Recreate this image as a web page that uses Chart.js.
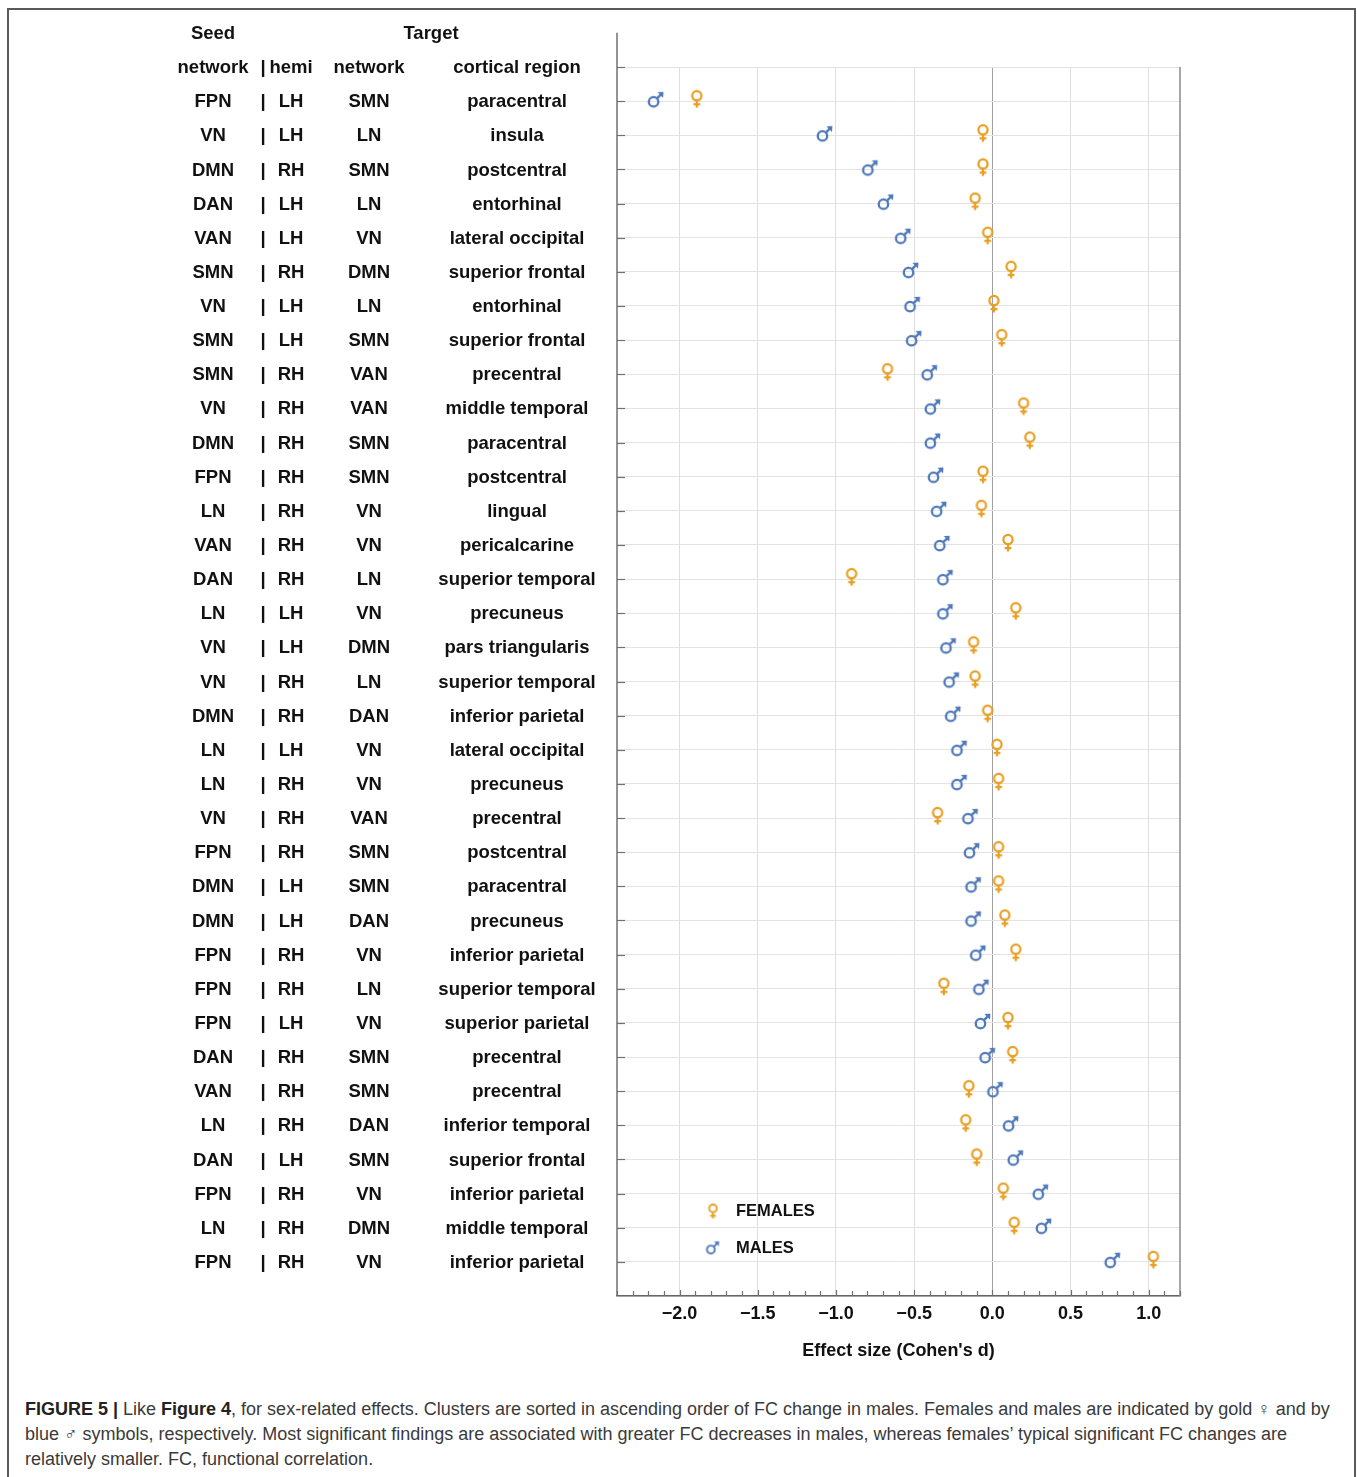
<!DOCTYPE html>
<html>
<head>
<meta charset="utf-8">
<title>Sex-related FC effects</title>
<script src="https://cdn.jsdelivr.net/npm/chart.js@4.4.1/dist/chart.umd.min.js"></script>
<style>
  html, body { margin: 0; padding: 0; background: #fff; }
  #frame { position: absolute; left: 7px; top: 8px; width: 1349px; height: 1520px;
           border: 2px solid #5a5a5a; box-sizing: border-box; }
  #wrap { position: absolute; left: 0; top: 0; width: 1357px; height: 1386px; }
  #caption { position: absolute; left: 25px; top: 1397px; font-family: "Liberation Sans", Arial, sans-serif;
             font-size: 18px; line-height: 25px; color: #3a3a3a; white-space: nowrap; }
  #caption b { color: #222; }
</style>
</head>
<body>
<div id="frame"></div>
<div id="wrap"><canvas id="chart" width="1357" height="1386"></canvas></div>
<div id="caption">
  <div><b>FIGURE 5 |</b> Like <b>Figure 4</b>, for sex-related effects. Clusters are sorted in ascending order of FC change in males. Females and males are indicated by gold ♀ and by</div>
  <div>blue ♂ symbols, respectively. Most significant findings are associated with greater FC decreases in males, whereas females’ typical significant FC changes are</div>
  <div>relatively smaller. FC, functional correlation.</div>
</div>
<script>
// Cluster rows, top to bottom (sorted by FC change in males)
const seedNetwork = ['FPN','VN','DMN','DAN','VAN','SMN','VN','SMN','SMN','VN','DMN','FPN','LN','VAN','DAN','LN','VN','VN','DMN','LN','LN','VN','FPN','DMN','DMN','FPN','FPN','FPN','DAN','VAN','LN','DAN','FPN','LN','FPN'];
const hemisphere = ['LH','LH','RH','LH','LH','RH','LH','LH','RH','RH','RH','RH','RH','RH','RH','LH','LH','RH','RH','LH','RH','RH','RH','LH','LH','RH','RH','LH','RH','RH','RH','LH','RH','RH','RH'];
const targetNetwork = ['SMN','LN','SMN','LN','VN','DMN','LN','SMN','VAN','VAN','SMN','SMN','VN','VN','LN','VN','DMN','LN','DAN','VN','VN','VAN','SMN','SMN','DAN','VN','LN','VN','SMN','SMN','DAN','SMN','VN','DMN','VN'];
const corticalRegion = ['paracentral','insula','postcentral','entorhinal','lateral occipital','superior frontal','entorhinal','superior frontal','precentral','middle temporal','paracentral','postcentral','lingual','pericalcarine','superior temporal','precuneus','pars triangularis','superior temporal','inferior parietal','lateral occipital','precuneus','precentral','postcentral','paracentral','precuneus','inferior parietal','superior temporal','superior parietal','precentral','precentral','inferior temporal','superior frontal','inferior parietal','middle temporal','inferior parietal'];

// Effect sizes (Cohen's d)
const malesD = [-2.15,-1.07,-0.78,-0.68,-0.57,-0.52,-0.51,-0.50,-0.40,-0.38,-0.38,-0.36,-0.34,-0.32,-0.30,-0.30,-0.28,-0.26,-0.25,-0.21,-0.21,-0.14,-0.13,-0.12,-0.12,-0.09,-0.07,-0.06,-0.03,0.02,0.12,0.15,0.31,0.33,0.77];
const femalesD = [-1.89,-0.06,-0.06,-0.11,-0.03,0.12,0.01,0.06,-0.67,0.20,0.24,-0.06,-0.07,0.10,-0.90,0.15,-0.12,-0.11,-0.03,0.03,0.04,-0.35,0.04,0.04,0.08,0.15,-0.31,0.10,0.13,-0.15,-0.17,-0.10,0.07,0.14,1.03];

// Axis ticks
const xMajorTicks = [-2.0,-1.5,-1.0,-0.5,0.0,0.5,1.0];
const xTickLabels = ['\u22122.0','\u22121.5','\u22121.0','\u22120.5','0.0','0.5','1.0'];
const seriesLabels = ['FEMALES','MALES'];

const GOLD = '#E89F24';
const BLUE = '#4F79B9';
const FONT = '"Liberation Sans", Arial, Helvetica, sans-serif';

// Venus glyph: the canvas centre sits on the data point
function venusGlyph(s) {
  const c = document.createElement('canvas');
  c.width = Math.round(16 * s); c.height = Math.round(28 * s);
  const g = c.getContext('2d');
  g.scale(c.width / 16, c.height / 28);
  g.strokeStyle = GOLD; g.lineWidth = 2.0; g.lineCap = 'butt';
  g.beginPath(); g.arc(8, 9.2, 4.1, 0, Math.PI * 2); g.stroke();
  g.beginPath(); g.moveTo(8, 13.2); g.lineTo(8, 19.6);
  g.moveTo(5, 16.8); g.lineTo(11, 16.8); g.stroke();
  return c;
}
// Mars glyph: circle lower-left, arrow towards upper right
function marsGlyph(s) {
  const c = document.createElement('canvas');
  c.width = Math.round(26 * s); c.height = Math.round(26 * s);
  const g = c.getContext('2d');
  g.scale(c.width / 26, c.height / 26);
  g.strokeStyle = BLUE; g.fillStyle = BLUE; g.lineWidth = 2.0;
  const cx = 10.8, cy = 13.6, r = 4.1;
  g.beginPath(); g.arc(cx, cy, r, 0, Math.PI * 2); g.stroke();
  const tx = 19.4, ty = 5.0;
  g.beginPath(); g.moveTo(cx + r * 0.7, cy - r * 0.7); g.lineTo(tx - 2, ty + 2); g.stroke();
  g.beginPath(); g.moveTo(tx, ty); g.lineTo(tx - 5.2, ty + 0.3); g.lineTo(tx - 0.3, ty + 5.2); g.closePath(); g.fill();
  return c;
}
const venus = venusGlyph(1.15), mars = marsGlyph(1.15);
const venusSmall = venusGlyph(0.95), marsSmall = marsGlyph(0.95);

const isMajor = v => xMajorTicks.some(m => Math.abs(m - v) < 1e-6);

// Row table, header, inward ticks, frame and in-plot legend
const tablePlugin = {
  id: 'rowTable',
  afterDraw(chart) {
    const ctx = chart.ctx, ys = chart.scales.y, xs = chart.scales.x, a = chart.chartArea;
    ctx.save();
    // right frame
    ctx.strokeStyle = '#8a8a8a'; ctx.lineWidth = 1.5;
    ctx.beginPath(); ctx.moveTo(a.right, a.top); ctx.lineTo(a.right, a.bottom); ctx.stroke();
    // left axis line, extended up to the header row
    ctx.strokeStyle = '#707070'; ctx.lineWidth = 1.5;
    ctx.beginPath(); ctx.moveTo(a.left, ys.getPixelForValue(-2)); ctx.lineTo(a.left, a.bottom); ctx.stroke();
    // inward row ticks
    ctx.lineWidth = 1.2; ctx.strokeStyle = '#707070';
    for (let i = -1; i < seedNetwork.length; i++) {
      const py = Math.round(ys.getPixelForValue(i)) + 0.5;
      ctx.beginPath(); ctx.moveTo(a.left, py); ctx.lineTo(a.left + 8, py); ctx.stroke();
    }
    // inward minor / major ticks on the x axis
    for (let k = -24; k <= 12; k++) {
      const v = k / 10, px = Math.round(xs.getPixelForValue(v)) + 0.5;
      const len = isMajor(v) ? 6 : 5;
      ctx.beginPath(); ctx.moveTo(px, a.bottom); ctx.lineTo(px, a.bottom - len); ctx.stroke();
    }
    // table text
    ctx.fillStyle = '#111';
    ctx.textBaseline = 'middle'; ctx.textAlign = 'center';
    ctx.font = 'bold 18.5px ' + FONT;
    const colNet = 213, colBar = 263, colHemi = 291, colTgt = 369, colReg = 517;
    const yTop = ys.getPixelForValue(-2) + 1, yHead = ys.getPixelForValue(-1) + 1;
    ctx.fillText('Seed', colNet, yTop);
    ctx.fillText('Target', 431, yTop);
    ctx.fillText('network', colNet, yHead);
    ctx.fillText('|', colBar, yHead);
    ctx.fillText('hemi', colHemi, yHead);
    ctx.fillText('network', colTgt, yHead);
    ctx.fillText('cortical region', colReg, yHead);
    seedNetwork.forEach((s, i) => {
      const py = ys.getPixelForValue(i) + 1;
      ctx.fillText(s, colNet, py);
      ctx.fillText('|', colBar, py);
      ctx.fillText(hemisphere[i], colHemi, py);
      ctx.fillText(targetNetwork[i], colTgt, py);
      ctx.fillText(corticalRegion[i], colReg, py);
    });
    // legend inside the plot
    ctx.textAlign = 'left'; ctx.font = 'bold 16.5px ' + FONT;
    const lx = a.left + 96;
    const ly1 = 1211, ly2 = 1248;
    ctx.drawImage(venusSmall, lx - venusSmall.width / 2, ly1 + 2 - venusSmall.height / 2);
    ctx.fillText(seriesLabels[0], lx + 23, ly1);
    ctx.drawImage(marsSmall, lx - marsSmall.width / 2, ly2 + 1 - marsSmall.height / 2);
    ctx.fillText(seriesLabels[1], lx + 23, ly2);
    ctx.restore();
  }
};

const rowIdx = seedNetwork.map((_, i) => i);

new Chart(document.getElementById('chart'), {
  type: 'scatter',
  data: {
    datasets: [
      { label: seriesLabels[1], data: rowIdx.map(i => ({ x: malesD[i], y: i })),
        pointStyle: mars, pointRadius: 10, pointHoverRadius: 10 },
      { label: seriesLabels[0], data: rowIdx.map(i => ({ x: femalesD[i], y: i })),
        pointStyle: venus, pointRadius: 10, pointHoverRadius: 10 }
    ]
  },
  options: {
    responsive: false,
    animation: false,
    devicePixelRatio: 1,
    layout: { padding: { left: 617, right: 177, top: 67, bottom: 0 } },
    plugins: { legend: { display: false }, tooltip: { enabled: false } },
    scales: {
      x: {
        type: 'linear', min: -2.4, max: 1.2,
        afterBuildTicks(s) {
          const t = [];
          for (let k = -24; k <= 12; k++) t.push({ value: k / 10 });
          s.ticks = t;
        },
        afterFit(s) { s.height = 90; },
        ticks: {
          autoSkip: false, maxRotation: 0, minRotation: 0, padding: 7,
          color: '#111', font: { family: FONT, size: 18, weight: 'bold' },
          callback(v) {
            const i = xMajorTicks.findIndex(m => Math.abs(m - v) < 1e-6);
            return i >= 0 ? xTickLabels[i] : '';
          }
        },
        grid: {
          drawTicks: false, lineWidth: 1,
          color(c) {
            const v = c.tick ? c.tick.value : NaN;
            if (Math.abs(v) < 1e-6) return '#a0a0a0';
            return isMajor(v) ? '#dedede' : 'rgba(0,0,0,0)';
          }
        },
        border: { display: true, color: '#666', width: 1.5 },
        title: { display: true, text: "Effect size (Cohen's d)", color: '#111',
                 font: { family: FONT, size: 18, weight: 'bold' }, padding: { top: 4, bottom: 24 } }
      },
      y: {
        type: 'linear', min: -1, max: 35, reverse: true,
        afterBuildTicks(s) {
          const t = [];
          for (let k = -1; k <= 35; k++) t.push({ value: k });
          s.ticks = t;
        },
        afterFit(s) { s.width = 0; },
        ticks: { display: false },
        grid: { drawTicks: false, color: '#e3e3e3', lineWidth: 1 },
        border: { display: false }
      }
    }
  },
  plugins: [tablePlugin]
});
</script>
</body>
</html>
